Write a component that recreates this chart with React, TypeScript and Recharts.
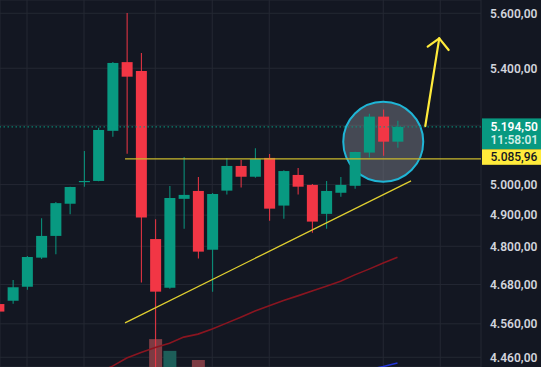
import React from 'react';
import {
  ComposedChart,
  Bar,
  Line,
  XAxis,
  YAxis,
  CartesianGrid,
  ReferenceLine,
  ReferenceDot,
  Cell,
} from 'recharts';

// ---- data ----
const candleIndex = [0, 1, 2, 3, 4, 5, 6, 7, 8, 9, 10, 11, 12, 13, 14, 15, 16, 17, 18, 19, 20, 21, 22, 23, 24, 25, 26, 27, 28];
const opens = [4620, 4630, 4673, 4764, 4833, 4937, 5008, 5012, 5181, 5422, 5390, 4823, 4670, 4953, 4979, 4789, 4980, 5062, 5026, 5089, 4931, 5032, 4999, 4904, 4973, 4996, 5107, 5230, 5144];
const highs = [4623, 4694, 4769, 4890, 4943, 4993, 5112, 5192, 5422, 5601, 5455, 4887, 4995, 5092, 5025, 4972, 5089, 5082, 5122, 5102, 5048, 5055, 5002, 5012, 5025, 5110, 5240, 5255, 5216];
const lows = [4593, 4621, 4664, 4760, 4775, 4903, 4993, 5011, 5161, 5103, 4686, 4420, 4667, 4856, 4761, 4658, 4967, 4990, 5023, 4882, 4888, 4967, 4843, 4856, 4960, 4986, 5090, 5096, 5123];
const closes = [4597, 4672, 4766, 4833, 4939, 4992, 5012, 5184, 5419, 5370, 4892, 4658, 4956, 4966, 4783, 4969, 5062, 5026, 5085, 4921, 5045, 4993, 4879, 4979, 4999, 5109, 5230, 5144, 5194.5];
const maSlow = [null, null, null, null, null, null, null, 4416, 4434, 4458, 4474, 4489, 4502, 4520, 4529, 4544, 4562, 4580, 4599, 4615, 4631, 4645, 4660, 4675, 4690, 4710, 4728, 4747, 4765];
const maBlue = [null, null, null, null, null, null, null, null, null, null, null, null, null, null, null, null, null, null, null, null, null, null, null, null, null, null, 4424, 4433, 4443];
const volumes = [null, null, null, null, null, null, null, null, null, null, null, 76, 44, null, 19, null, null, null, null, null, null, null, null, null, null, null, null, null, null];

const priceTicks = [4460, 4560, 4680, 4800, 4900, 5000, 5200, 5400, 5600];
const lastPrice = 5194.5;
const lastTime = '11:58:01';
const resistance = 5085.96;

// annotation anchors (data coordinates)
const resistanceStart = 8.88;
const trendLine = [{ x: 8.88, y: 4563 }, { x: 28.95, y: 5012 }];
const arrowShaft = [{ x: 29.95, y: 5197.5 }, { x: 30.93, y: 5508 }];
const arrowHeadL = [{ x: 30.12, y: 5477.6 }, { x: 30.93, y: 5508 }];
const arrowHeadR = [{ x: 31.59, y: 5465.6 }, { x: 30.93, y: 5508 }];
const circleCenter = { x: 27.0, y: 5143.8 };
const timeGridTicks = [2, 6, 11, 15, 19, 27, 31];

const X_DOMAIN: [number, number] = [0.105, 33.86];
const Y_DOMAIN: [number, number] = [4431.5, 5649.5];

const UP = '#089981';
const DOWN = '#f23645';
const BG = '#131722';

const data = candleIndex.map((i, k) => ({
  i,
  wick: [lows[k], highs[k]],
  body: [Math.min(opens[k], closes[k]), Math.max(opens[k], closes[k])],
  up: closes[k] >= opens[k],
  ma: maSlow[k],
  ma2: maBlue[k],
  vol: volumes[k],
}));

const fmt = (v: number) => {
  const fixed = v.toFixed(2);
  const [intPart, dec] = fixed.split('.');
  const withSep = intPart.replace(/\B(?=(\d{3})+(?!\d))/g, '.');
  return `${withSep},${dec}`;
};

const FONT = 'Roboto, "Liberation Sans", sans-serif';

const LastPriceTag = (props: any) => {
  const vb = props.viewBox || {};
  const right = vb.x + vb.width;
  const y = vb.y;
  return (
    <g>
      <rect x={right + 1} y={y - 8.5} width={60} height={31} fill={UP} />
      <text x={right + 9.5} y={y + 4} fill="#ffffff" fontSize={12} fontWeight={600} fontFamily={FONT}>
        {fmt(lastPrice)}
      </text>
      <text x={right + 9.5} y={y + 17.5} fill="#cfeee6" fontSize={12} fontWeight={600} fontFamily={FONT}>
        {lastTime}
      </text>
    </g>
  );
};

const ResistanceTag = (props: any) => {
  const vb = props.viewBox || {};
  const right = vb.x + vb.width;
  const y = vb.y;
  return (
    <g>
      <rect x={right + 1} y={y - 9.5} width={60} height={15.5} fill="#ffeb3b" />
      <text x={right + 9.5} y={y + 2.5} fill="#131722" fontSize={12} fontWeight={500} fontFamily={FONT}>
        {fmt(resistance)}
      </text>
    </g>
  );
};

export default function App() {
  return (
    <div style={{ position: 'absolute', left: 0, top: 0, width: 541, height: 367, background: BG }}>
      <ComposedChart width={541} height={367} data={data} margin={{ top: 0, right: 0, bottom: 0, left: 0 }}>
        <XAxis xAxisId="body" dataKey="i" type="number" domain={X_DOMAIN} allowDataOverflow ticks={timeGridTicks} hide />
        <XAxis xAxisId="wick" dataKey="i" type="number" domain={X_DOMAIN} allowDataOverflow hide />
        <XAxis xAxisId="vol" dataKey="i" type="number" domain={X_DOMAIN} allowDataOverflow hide />
        <YAxis
          yAxisId="price"
          orientation="right"
          scale="log"
          domain={Y_DOMAIN}
          allowDataOverflow
          ticks={priceTicks}
          interval={0}
          width={60}
          axisLine={false}
          tickLine={false}
          tickMargin={3}
          tickFormatter={(v: number) => (v === 5200 ? '' : fmt(v))}
          tick={{ fill: '#d1d4dc', fontSize: 12, fontWeight: 600, fontFamily: FONT }}
        />
        <YAxis yAxisId="vol" domain={[0, 1000]} allowDataOverflow hide />
        <CartesianGrid xAxisId="body" yAxisId="price" stroke="#242833" strokeWidth={1} />

        <ReferenceDot
          xAxisId="body"
          yAxisId="price"
          x={circleCenter.x}
          y={circleCenter.y}
          r={40}
          fill="rgba(120,123,134,0.5)"
          stroke="#1fb5d6"
          strokeWidth={2}
          ifOverflow="visible"
          {...({ zIndex: 250 } as any)}
        />

        <Bar xAxisId="vol" yAxisId="vol" dataKey="vol" barSize={13} isAnimationActive={false}>
          {data.map((d) => (
            <Cell key={`v${d.i}`} fill={d.up ? '#1d5e59' : '#7d3b43'} />
          ))}
        </Bar>

        <Line xAxisId="body" yAxisId="price" dataKey="ma" stroke="#8a1520" strokeWidth={1.6} dot={false} isAnimationActive={false} connectNulls={false} />
        <Line xAxisId="body" yAxisId="price" dataKey="ma2" stroke="#2435d6" strokeWidth={1.6} dot={false} isAnimationActive={false} />

        <Bar xAxisId="wick" yAxisId="price" dataKey="wick" barSize={1} isAnimationActive={false}>
          {data.map((d) => (
            <Cell key={`w${d.i}`} fill={d.up ? UP : DOWN} />
          ))}
        </Bar>
        <Bar xAxisId="body" yAxisId="price" dataKey="body" barSize={11} minPointSize={1} isAnimationActive={false}>
          {data.map((d) => (
            <Cell key={`b${d.i}`} fill={d.up ? UP : DOWN} />
          ))}
        </Bar>

        <ReferenceLine
          xAxisId="body"
          yAxisId="price"
          y={lastPrice}
          stroke={UP}
          strokeDasharray="1.5 2.5"
          strokeWidth={1}
          label={(p: any) => <LastPriceTag {...p} />}
        />
        <ReferenceLine
          xAxisId="body"
          yAxisId="price"
          segment={[{ x: resistanceStart, y: resistance }, { x: X_DOMAIN[1], y: resistance }]}
          stroke="#c9b92c"
          strokeWidth={1.2}
          ifOverflow="visible"
          label={(p: any) => <ResistanceTag {...p} />}
        />
        <ReferenceLine xAxisId="body" yAxisId="price" segment={trendLine} stroke="#e0cf30" strokeWidth={1.3} ifOverflow="visible" />
        <ReferenceLine xAxisId="body" yAxisId="price" segment={arrowShaft} stroke="#ffeb3b" strokeWidth={2.2} strokeLinecap="round" ifOverflow="visible" />
        <ReferenceLine xAxisId="body" yAxisId="price" segment={arrowHeadL} stroke="#ffeb3b" strokeWidth={2.2} strokeLinecap="round" ifOverflow="visible" />
        <ReferenceLine xAxisId="body" yAxisId="price" segment={arrowHeadR} stroke="#ffeb3b" strokeWidth={2.2} strokeLinecap="round" ifOverflow="visible" />
      </ComposedChart>
    </div>
  );
}
